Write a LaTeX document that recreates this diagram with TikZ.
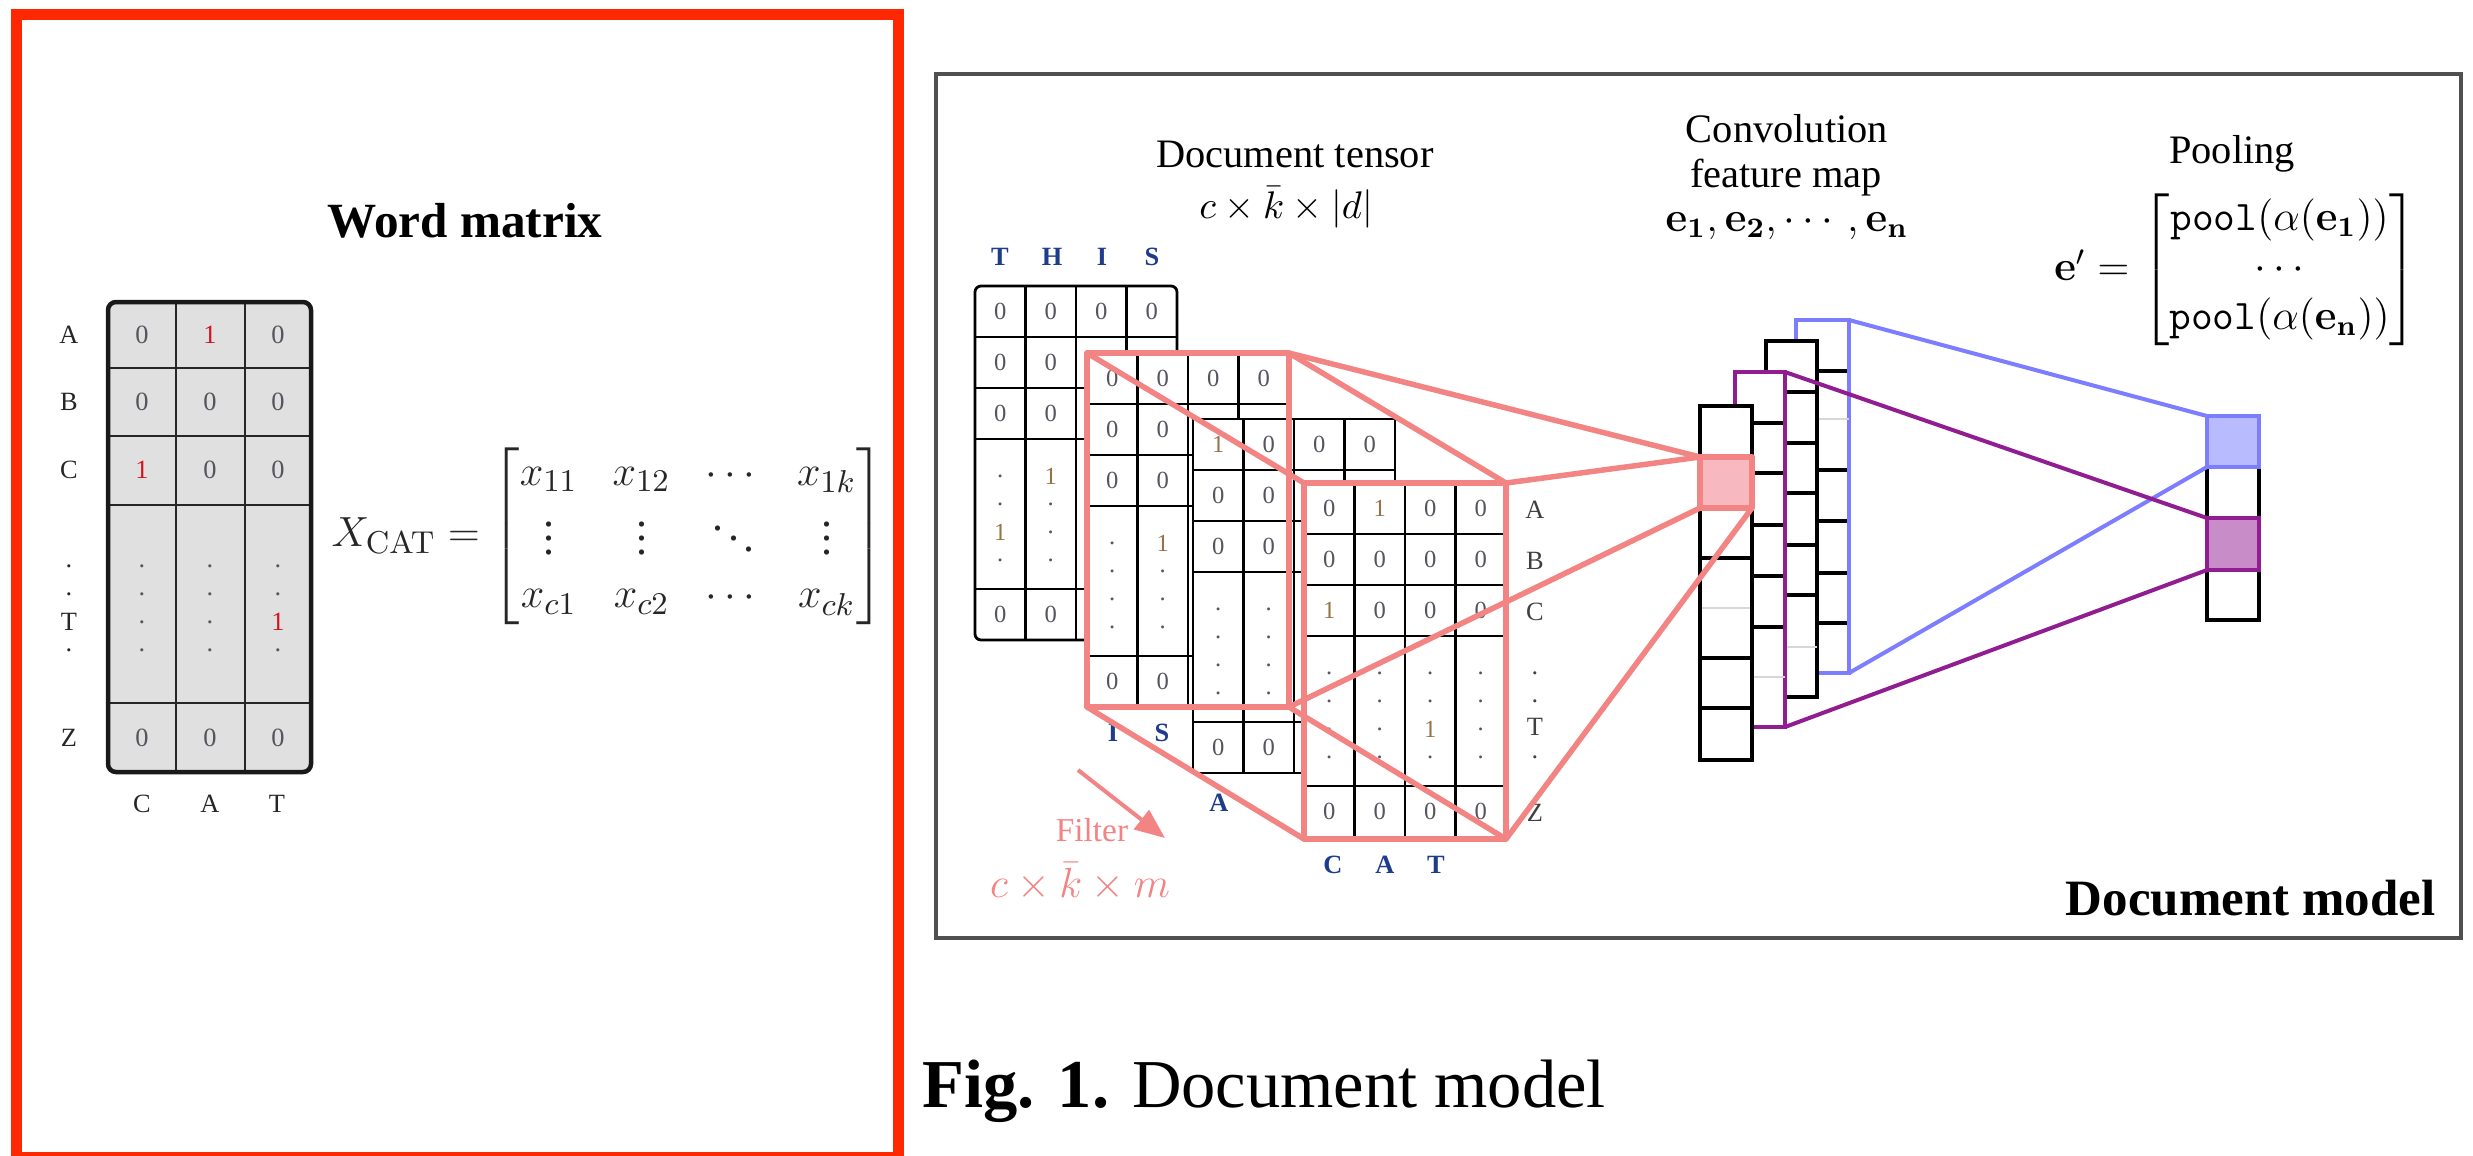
\documentclass[tikz,border=0pt]{standalone}
\usepackage[no-math]{fontspec}
\setmainfont{Liberation Serif}
\usepackage{amsmath}
\usetikzlibrary{arrows.meta}

\definecolor{frameRed}{RGB}{255,40,0}
\definecolor{filtRed}{RGB}{243,132,132}
\definecolor{filtFill}{RGB}{247,184,192}
\definecolor{fmBlue}{RGB}{125,125,255}
\definecolor{fmBlueFill}{RGB}{184,188,255}
\definecolor{fmPurple}{RGB}{145,30,145}
\definecolor{fmPurpleFill}{RGB}{200,140,200}
\definecolor{lblBlue}{RGB}{30,60,140}
\definecolor{digit}{RGB}{85,85,95}
\definecolor{oneTan}{RGB}{150,115,70}
\definecolor{oneRed}{RGB}{210,20,30}
\definecolor{cellGray}{RGB}{224,224,224}
\definecolor{panelGray}{RGB}{80,80,80}
\definecolor{faint}{RGB}{215,215,215}

\newcommand{\dt}{.}
\newcommand{\onet}{\textcolor{oneTan}{1}}
\newcommand{\onew}{\textcolor{oneRed}{1}}

% one slice of the document tensor, in local coordinates
\newcommand{\tgrid}[1]{%
  \fill[white,#1] (0,0) rectangle (202,354);
  \foreach \cx in {50.5,101,151.5} \draw[tline] (\cx,0) -- (\cx,354);
  \foreach \ry in {51,102,153,303} \draw[tline] (0,\ry) -- (202,\ry);
  \draw[tline,#1] (0,0) rectangle (202,354);}
% a row of cell values
\newcommand{\trow}[3]{\foreach \v [count=\i] in {#3} {\node[tnum] (#1\i) at ({50.5*\i-25.25},#2) {\v};}}
% a column of values in the elided block
\newcommand{\tcol}[3]{\foreach \v [count=\i] in {#3} {\node[tnum] (#1\i) at ({50.5*#2-25.25},{162+28*\i}) {\v};}}
% one column of the convolution feature map
\newcommand{\fmcol}[6]{% x0, y0, x1, y1, row lines, border colour
  \fill[white] (#1,#2) rectangle (#3,#4);
  \foreach \ry in {#5} \draw[fmline] (#1,\ry) -- (#3,\ry);
  \draw[fmline,draw=#6] (#1,#2) rectangle (#3,#4);}

\begin{document}
\begin{tikzpicture}[x=0.1mm,y=-0.1mm,
  every node/.style={inner sep=0pt},
  tnum/.style={font=\fontsize{7}{8}\selectfont, text=digit},
  wnum/.style={font=\fontsize{7.5}{9}\selectfont, text=digit},
  wlab/.style={font=\fontsize{7.5}{9}\selectfont, text=black!85},
  tlab/.style={font=\bfseries\fontsize{7.5}{9}\selectfont, text=lblBlue},
  rlab/.style={font=\fontsize{7.5}{9}\selectfont, text=black!75},
  head/.style={font=\fontsize{11.5}{14}\selectfont},
  tline/.style={draw=black, line width=0.28mm},
  wline/.style={draw=black!85, line width=0.28mm},
  wborder/.style={draw=black!90, line width=0.45mm},
  fmline/.style={draw=black, line width=0.38mm},
  filt/.style={draw=filtRed, line width=0.55mm, line join=round},
  blueln/.style={draw=fmBlue, line width=0.4mm},
  purpln/.style={draw=fmPurple, line width=0.4mm}]
\useasboundingbox (0,0) rectangle (2473,1155);
\clip (0,0) rectangle (2473,1155);

% ================= word matrix panel =================
\draw[line width=1.1mm, draw=frameRed] (16.5,14.5) rectangle (898,1157);
\node[font=\bfseries\fontsize{14}{17}\selectfont] (wmtitle) at (465,221) {Word matrix};
\fill[cellGray, rounded corners=0.8mm] (108,302) rectangle (311,772);
\foreach \x in {176,245} \draw[wline] (\x,302) -- (\x,772);
\foreach \y in {368,436,505,703} \draw[wline] (108,\y) -- (311,\y);
\draw[wborder, rounded corners=0.8mm] (108,302) rectangle (311,772);
\foreach \v [count=\i] in {0,\onew,0} \node[wnum] (wa\i) at ({68*\i+74},335) {\v};
\foreach \v [count=\i] in {0,0,0} \node[wnum] (wb\i) at ({68*\i+74},402) {\v};
\foreach \v [count=\i] in {\onew,0,0} \node[wnum] (wc\i) at ({68*\i+74},470) {\v};
\foreach \v [count=\i] in {0,0,0} \node[wnum] (wz\i) at ({68*\i+74},738) {\v};
\foreach \v [count=\i] in {\dt,\dt,\dt,\dt} \node[wnum] (wdA\i) at (142,{538+28*\i}) {\v};
\foreach \v [count=\i] in {\dt,\dt,\dt,\dt} \node[wnum] (wdB\i) at (210,{538+28*\i}) {\v};
\foreach \v [count=\i] in {\dt,\dt,\onew,\dt} \node[wnum] (wdC\i) at (278,{538+28*\i}) {\v};
\foreach \l/\y [count=\i] in {A/335,B/402,C/470,\dt/566,\dt/594,T/622,\dt/650,Z/738}
  \node[wlab] (wr\i) at (69,\y) {\l};
\foreach \l/\x [count=\i] in {C/142,A/210,T/277} \node[wlab] (wk\i) at (\x,804) {\l};
\node[font=\fontsize{12.5}{15}\selectfont, text=black!85] (xcat) at (608,536)
  {$X_{\mathrm{CAT}} = \begin{bmatrix} x_{11} & x_{12} & \cdots & x_{1k}\\
     \vdots & \vdots & \ddots & \vdots\\ x_{c1} & x_{c2} & \cdots & x_{ck}\end{bmatrix}$};

% ================= document model panel =================
\draw[line width=0.45mm, draw=panelGray] (936,74) rectangle (2461,938);
\node[head] (dtitle) at (1295,154) {Document tensor};
\node[font=\fontsize{11}{13}\selectfont] (ddim) at (1286,207) {$c\times\bar{k}\times|d|$};
\node[head] (ctitle1) at (1787,129) {Convolution};
\node[head] (ctitle2) at (1786,178) {feature map};
\node[font=\fontsize{12}{14}\selectfont] (cvec) at (1787,226)
  {$\mathbf{e_1},\mathbf{e_2},\cdots,\mathbf{e_n}$};
\node[head] (ptitle) at (2232,154) {Pooling};
\node[font=\fontsize{12}{14}\selectfont] (pvec) at (2236,270)
  {$\mathbf{e}' = \begin{bmatrix}\texttt{pool}(\alpha(\mathbf{e_1}))\\ \cdots\\
     \texttt{pool}(\alpha(\mathbf{e_n}))\end{bmatrix}$};
\node[font=\bfseries\fontsize{14.5}{17}\selectfont, anchor=east] (dmodel) at (2436,898) {Document model};

% word labels of the tensor slices
\foreach \l/\x [count=\i] in {T/1000,H/1052,I/1102,S/1152} \node[tlab] (this\i) at (\x,257) {\l};
\node[tlab] (isI) at (1113,733) {I};
\node[tlab] (isS) at (1162,733) {S};
\node[tlab] (aA) at (1219,803) {A};
\foreach \l/\x [count=\i] in {C/1333,A/1385,T/1436} \node[tlab] (cat\i) at (\x,865) {\l};
\foreach \l/\y [count=\i] in {A/510,B/561,C/612,\dt/673,\dt/701,T/727,\dt/757,Z/813}
  \node[rlab] (abc\i) at (1535,\y) {\l};

% tensor slices, back to front
\begin{scope}[shift={(975,286)}]
  \tgrid{rounded corners=0.6mm}
  \trow{sa}{25.5}{0,0,0,0}
  \trow{sb}{76.5}{0,0}
  \trow{sc}{127.5}{0,0}
  \tcol{sd}{1}{\dt,\dt,\onet,\dt}
  \tcol{se}{2}{\onet,\dt,\dt,\dt}
  \trow{sz}{328.5}{0,0}
\end{scope}
\begin{scope}[shift={(1087,353)}]
  \tgrid{}
  \trow{ia}{25.5}{0,0,0,0}
  \trow{ib}{76.5}{0,0}
  \trow{ic}{127.5}{0,0}
  \tcol{id}{1}{\dt,\dt,\dt,\dt}
  \tcol{ie}{2}{\onet,\dt,\dt,\dt}
  \trow{iz}{328.5}{0,0}
\end{scope}
\begin{scope}[shift={(1193,419)}]
  \tgrid{}
  \trow{aa}{25.5}{\onet,0,0,0}
  \trow{ab}{76.5}{0,0}
  \trow{ac}{127.5}{0,0}
  \tcol{ad}{1}{\dt,\dt,\dt,\dt}
  \tcol{ae}{2}{\dt,\dt,\dt,\dt}
  \trow{az}{328.5}{0,0}
\end{scope}
\begin{scope}[shift={(1304,483)}]
  \tgrid{}
  \trow{ca}{25.5}{0,\onet,0,0}
  \trow{cb}{76.5}{0,0,0,0}
  \trow{cc}{127.5}{\onet,0,0,0}
  \tcol{cd}{1}{\dt,\dt,\dt,\dt}
  \tcol{ce}{2}{\dt,\dt,\dt,\dt}
  \tcol{cf}{3}{\dt,\dt,\onet,\dt}
  \tcol{cg}{4}{\dt,\dt,\dt,\dt}
  \trow{cz}{328.5}{0,0,0,0}
\end{scope}

% convolution feature map columns, back to front
\fmcol{1796}{320}{1849}{673}{371,470,521,573,623}{fmBlue}
\draw[faint, line width=0.2mm] (1817,419) -- (1849,419);
\fmcol{1766}{341}{1817}{697}{392,443,493,545,595}{black}
\draw[faint, line width=0.2mm] (1785,647) -- (1817,647);
\fmcol{1735}{372}{1785}{727}{423,473,525,576,627}{fmPurple}
\draw[faint, line width=0.2mm] (1752,677) -- (1785,677);
\fmcol{1700}{406}{1752}{760}{457,508,558,658,708}{black}
\draw[faint, line width=0.2mm] (1702,608) -- (1750,608);

% pooled vector
\draw[fmline] (2207,416) rectangle (2259,620);
\filldraw[blueln, fill=fmBlueFill] (2207,416) rectangle (2259,467);
\filldraw[purpln, fill=fmPurpleFill] (2207,518) rectangle (2259,570);

% corners used by the connectors
\coordinate (bTL) at (1087,353); \coordinate (bTR) at (1289,353);
\coordinate (bBL) at (1087,707); \coordinate (bBR) at (1289,707);
\coordinate (fTL) at (1304,483); \coordinate (fTR) at (1506,483);
\coordinate (fBL) at (1304,839); \coordinate (fBR) at (1506,839);
\coordinate (cTL) at (1700,457); \coordinate (cBL) at (1700,508); \coordinate (cBR) at (1752,508);
\coordinate (q4T) at (1849,320); \coordinate (q4B) at (1849,673);
\coordinate (q2T) at (1785,372); \coordinate (q2B) at (1785,727);
\coordinate (pbT) at (2207,416); \coordinate (pbB) at (2207,467);
\coordinate (ppT) at (2207,518); \coordinate (ppB) at (2207,570);
\coordinate (arS) at (1078,770); \coordinate (arE) at (1165,838);

% convolution filter box and its projection
\filldraw[filt, fill=filtFill] (cTL) rectangle (cBR);
\draw[filt] (bTL) rectangle (bBR);
\draw[filt] (fTL) rectangle (fBR);
\draw[filt] (bTL) -- (fTL);
\draw[filt] (bTR) -- (fTR);
\draw[filt] (bBL) -- (fBL);
\draw[filt] (bBR) -- (fBR);
\draw[filt] (bTR) -- (cTL);
\draw[filt] (fTR) -- (cTL);
\draw[filt] (bBR) -- (cBL);
\draw[filt] (fBR) -- (cBR);

% pooling connectors
\draw[blueln] (q4T) -- (pbT);
\draw[blueln] (q4B) -- (pbB);
\draw[purpln] (q2T) -- (ppT);
\draw[purpln] (q2B) -- (ppB);

% filter label and direction
\draw[draw=filtRed, line width=0.4mm, -{Triangle[length=3mm,width=2.4mm]}] (arS) -- (arE);
\node[font=\fontsize{9.5}{11}\selectfont, text=filtRed] (flab) at (1092,830) {Filter};
\node[font=\fontsize{11.5}{14}\selectfont, text=filtRed] (fdim) at (1080,882) {$c\times\bar{k}\times m$};

% caption
\node[font=\fontsize{19.5}{23}\selectfont, anchor=base west] (caption) at (922,1107)
  {\textbf{Fig. 1.} Document model};
\end{tikzpicture}
\end{document}
